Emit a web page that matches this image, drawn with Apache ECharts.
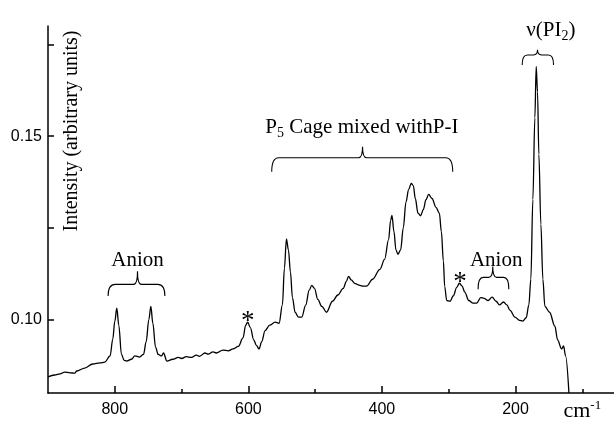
<!DOCTYPE html>
<html>
<head>
<meta charset="utf-8">
<script src="https://cdn.jsdelivr.net/npm/echarts@6/dist/echarts.min.js"></script>
<style>html,body{margin:0;padding:0;background:#fff}#c{width:614px;height:423px}</style>
</head>
<body>
<div id="c"></div>
<script>
// Raman spectrum: wavenumber (cm-1) and intensity (arbitrary units)
const wavenumbers = [900,890,882,875,867,860,857,845,833,822,815,807,803,800,797,794,790,786,782,775,770,763,757,753,749,746,743,739,735,730,727,722,713,705,700,693,685,678,673,665,660,653,648,638,630,623,615,608,604,601,597,592,588,584,580,575,568,560,554,549,546,543,540,537,534,530,525,520,514,509,505,501,496,490,483,474,466,458,453,450,446,440,433,428,423,414,403,396,390,387,385,382,379,376,372,368,364,360,356,353,350,346,342,338,334,330,325,319,314,311,308,306,303,298,293,288,284,280,276,270,264,258,252,247,241,235,229,224,218,213,208,201,194,189,184,180,177,174,171,169,167,165,162,159,156,149,141,137,131,128,125,120];
const intensity = [0.0844,0.0849,0.0852,0.0857,0.0855,0.0854,0.0860,0.0868,0.0879,0.0882,0.0884,0.0901,0.0947,0.0995,0.1031,0.0985,0.0905,0.0889,0.0887,0.0892,0.0901,0.0898,0.0905,0.0940,0.1000,0.1036,0.0990,0.0925,0.0905,0.0901,0.0909,0.0887,0.0892,0.0897,0.0894,0.0899,0.0897,0.0903,0.0900,0.0909,0.0906,0.0912,0.0909,0.0917,0.0915,0.0920,0.0927,0.0950,0.0985,0.0993,0.0978,0.0945,0.0930,0.0920,0.0940,0.0970,0.0985,0.0993,0.0990,0.1040,0.1140,0.1220,0.1190,0.1130,0.1060,0.1020,0.1007,0.1007,0.1040,0.1080,0.1093,0.1085,0.1055,0.1036,0.1020,0.1050,0.1067,0.1085,0.1105,0.1118,0.1108,0.1098,0.1093,0.1091,0.1091,0.1110,0.1137,0.1164,0.1218,0.1270,0.1284,0.1240,0.1190,0.1178,0.1190,0.1250,0.1320,0.1355,0.1371,0.1365,0.1330,0.1290,0.1283,0.1300,0.1327,0.1341,0.1330,0.1306,0.1290,0.1240,0.1160,0.1090,0.1052,0.1050,0.1065,0.1088,0.1099,0.1092,0.1075,0.1052,0.1045,0.1045,0.1060,0.1058,0.1052,0.1061,0.1050,0.1040,0.1048,0.1040,0.1025,0.1007,0.0998,0.0996,0.1005,0.1040,0.1110,0.1327,0.1550,0.1690,0.1620,0.1450,0.1260,0.1110,0.1036,0.1020,0.0982,0.0945,0.0920,0.0928,0.0901,0.0800];

const xMajorTicks = [800,600,400,200];
const xMinorTicks = [700,500,300,100];
const yTicks = [0.10,0.125,0.15,0.175];
const yLabels = [0.10,0.15];

// annotation texts (position in data units)
const noteTexts = ['Anion','P{sub|5} Cage mixed withP-I','*','*','Anion','ν(PI{sub|2})'];
const noteX = [766, 430, 601, 283, 229, 147];
const noteY = [0.1161, 0.1523, 0.0995, 0.1101, 0.1161, 0.1789];
const noteSize = [21, 21, 27, 27, 21, 21];

// braces (data units)
const braceFrom = [810, 565, 256, 190];
const braceTo   = [725, 294, 210, 143];
const braceTip  = [766, 429, 234, 167];
const braceTipY = [0.1132, 0.1471, 0.1145, 0.1735];
const braceArmY = [0.1096, 0.1441, 0.1115, 0.1721];
const braceEndY = [0.1064, 0.1403, 0.1083, 0.1694];

const serif = 'Liberation Serif';
const sans = 'Liberation Sans';

const lineData = wavenumbers.map((w,i)=>[w,intensity[i]]);
const braceData = braceFrom.map((f,i)=>[f, braceTo[i], braceTip[i], braceTipY[i], braceArmY[i], braceEndY[i]]);
const noteData = noteX.map((x,i)=>[x, noteY[i], i]);

const chart = echarts.init(document.getElementById('c'), null, {renderer:'canvas'});
chart.setOption({
  animation:false,
  backgroundColor:'#fff',
  grid:{left:48,right:0,top:26,bottom:29},
  xAxis:[{
    type:'value', inverse:true, min:52.5, max:900,
    axisLine:{show:true,lineStyle:{color:'#000',width:1.5}},
    axisTick:{show:true,inside:true,length:7,customValues:xMajorTicks,lineStyle:{color:'#000',width:1.5}},
    axisLabel:{show:true,customValues:xMajorTicks,color:'#000',fontFamily:sans,fontSize:16,margin:9},
    splitLine:{show:false}
  },{
    type:'value', inverse:true, min:52.5, max:900, position:'bottom',
    axisLine:{show:false},
    axisTick:{show:true,inside:true,length:4,customValues:xMinorTicks,lineStyle:{color:'#000',width:1.5}},
    axisLabel:{show:true,customValues:[100],margin:6,
      formatter:()=> 'cm{s|-1}',
      color:'#000',fontFamily:serif,fontSize:22,lineHeight:24,
      rich:{s:{fontFamily:serif,fontSize:13,lineHeight:13,verticalAlign:'top',color:'#000'}}},
    splitLine:{show:false}
  }],
  yAxis:{
    type:'value', min:0.08, max:0.18,
    axisLine:{show:true,lineStyle:{color:'#000',width:1.5}},
    axisTick:{show:true,inside:true,length:6,customValues:yTicks,lineStyle:{color:'#000',width:1.5}},
    axisLabel:{show:true,customValues:yLabels,formatter:v=>v.toFixed(2),color:'#000',fontFamily:sans,fontSize:16,margin:6},
    splitLine:{show:false}
  },
  graphic:[{
    type:'text', x:72, y:131, rotation:Math.PI/2,
    style:{text:'Intensity (arbitrary units)',fontFamily:serif,fontSize:20,fill:'#000',align:'center',verticalAlign:'middle'}
  }],
  series:[{
    type:'line', data:lineData, xAxisIndex:0, showSymbol:false, smooth:0.35, smoothMonotone:'x',
    lineStyle:{color:'#000',width:1.3}, clip:true
  },{
    type:'custom', xAxisIndex:0, data:braceData, clip:false,
    renderItem:(params, api)=>{
      const a = api.coord([api.value(0), api.value(5)]);
      const b = api.coord([api.value(1), api.value(5)]);
      const t = api.coord([api.value(2), api.value(3)]);
      const arm = api.coord([api.value(0), api.value(4)])[1];
      const x1=a[0], x2=b[0], ye=a[1], xm=t[0], yt=t[1];
      const r = Math.min(7, (x2-x1)/6), r2 = 4;
      const d = `M${x1},${ye} Q${x1},${arm} ${x1+r},${arm} L${xm-r2},${arm} Q${xm},${arm} ${xm},${yt} Q${xm},${arm} ${xm+r2},${arm} L${x2-r},${arm} Q${x2},${arm} ${x2},${ye}`;
      return {type:'path', shape:{pathData:d}, style:{fill:null, stroke:'#000', lineWidth:1.1}};
    }
  },{
    type:'custom', xAxisIndex:0, data:noteData, clip:false,
    renderItem:(params, api)=>{
      const i = params.dataIndex;
      const p = api.coord([api.value(0), api.value(1)]);
      return {type:'text', x:p[0], y:p[1], style:{
        text:noteTexts[i], fontFamily:serif, fontSize:noteSize[i], lineHeight:26, fill:'#000',
        align:'center', verticalAlign:'middle',
        rich:{sub:{fontFamily:serif,fontSize:14,lineHeight:14,verticalAlign:'bottom',fill:'#000'}}
      }};
    }
  }]
});
</script>
</body>
</html>
